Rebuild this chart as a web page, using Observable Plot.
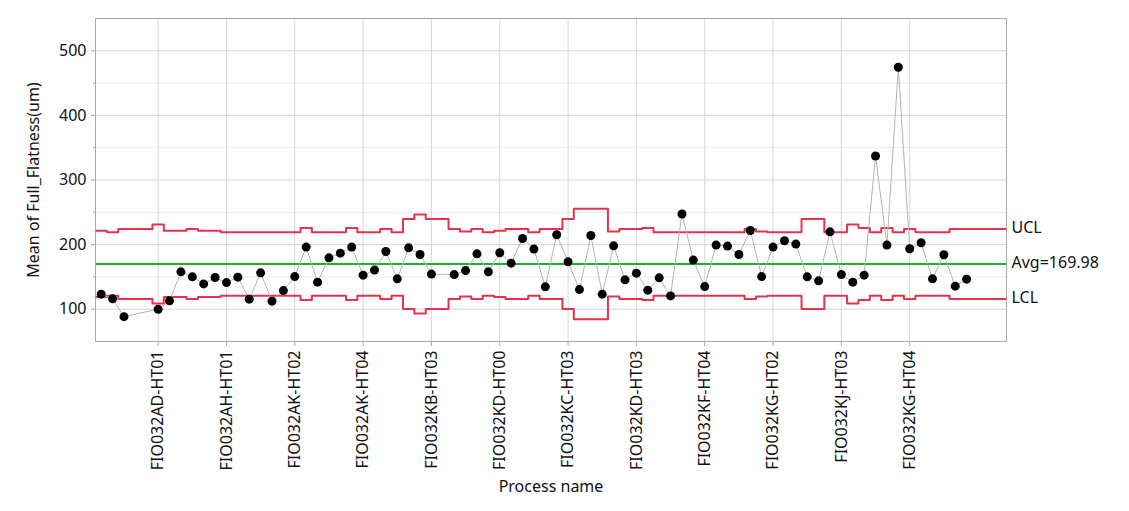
<!DOCTYPE html>
<html>
<head>
<meta charset="utf-8">
<script src="https://cdn.jsdelivr.net/npm/d3@7"></script>
<script src="https://cdn.jsdelivr.net/npm/@observablehq/plot@0.6"></script>
<style>
  body { margin: 0; background: #fff; }
</style>
</head>
<body>
<div id="chart"></div>
<script>
// ---- data ----
const labelIndex = [5, 11, 17, 23, 29, 35, 41, 47, 53, 59, 65, 71];
const labelNames = [
  "FIO032AD-HT01", "FIO032AH-HT01", "FIO032AK-HT02", "FIO032AK-HT04",
  "FIO032KB-HT03", "FIO032KD-HT00", "FIO032KC-HT03", "FIO032KD-HT03",
  "FIO032KF-HT04", "FIO032KG-HT02", "FIO032KJ-HT03", "FIO032KG-HT04"
];
const sampleIndex = [
  0, 1, 2, 5, 6, 7, 8, 9, 10, 11, 12, 13, 14, 15, 16, 17, 18, 19, 20, 21, 22, 23, 24, 25, 26, 27,
  28, 29, 31, 32, 33, 34, 35, 36, 37, 38, 39, 40, 41, 42, 43, 44, 45, 46, 47, 48, 49, 50, 51, 52,
  53, 54, 55, 56, 57, 58, 59, 60, 61, 62, 63, 64, 65, 66, 67, 68, 69, 70, 71, 72, 73, 74, 75, 76
];
const sampleMean = [
  123.3, 116.0, 88.5, 100.0, 112.9, 157.8, 150.1, 139.2, 149.0, 141.2, 149.6, 115.5, 156.3, 112.4, 128.8, 150.5, 196.1, 141.9, 179.5, 186.8, 196.1, 152.7, 160.5, 189.3, 147.0, 195.0,
  184.7, 154.3, 153.6, 159.8, 185.7, 157.8, 187.3, 171.3, 209.5, 193.0, 134.6, 215.2, 173.3, 130.4, 214.1, 123.3, 198.1, 145.4, 155.8, 129.5, 148.5, 120.6, 247.3, 176.0,
  135.0, 199.2, 197.7, 184.7, 221.9, 150.5, 196.1, 205.9, 200.8, 150.1, 143.9, 219.8, 153.6, 141.9, 152.7, 337.2, 199.2, 474.6, 193.5, 202.8, 147.0, 184.2, 135.7, 146.5
];
const ucl = [
  221.3, 219.2, 224.3, 224.3, 224.3, 231.0, 221.3, 221.3, 224.3, 221.3,
  221.3, 219.2, 219.2, 219.2, 219.2, 219.2, 219.2, 219.2, 225.8, 219.2,
  219.2, 219.2, 225.8, 219.2, 219.2, 224.3, 219.2, 239.8, 246.5, 239.8,
  239.8, 224.3, 220.3, 224.3, 219.2, 221.3, 224.3, 224.3, 219.2, 224.3,
  224.3, 239.8, 255.5, 255.5, 255.5, 220.3, 224.3, 224.3, 225.8, 219.2,
  219.2, 219.2, 219.2, 219.2, 219.2, 219.2, 219.2, 224.3, 220.3, 219.2,
  219.2, 219.2, 239.8, 239.8, 219.2, 219.2, 231.0, 225.8, 219.2, 225.8,
  219.2, 224.3, 219.2, 219.2, 219.2, 224.3, 224.3, 224.3, 224.3, 224.3
];
const lcl = [
  118.7, 120.8, 115.7, 115.7, 115.7, 109.0, 118.7, 118.7, 115.7, 118.7,
  118.7, 120.8, 120.8, 120.8, 120.8, 120.8, 120.8, 120.8, 114.2, 120.8,
  120.8, 120.8, 114.2, 120.8, 120.8, 115.7, 120.8, 100.2, 93.5, 100.2,
  100.2, 115.7, 119.7, 115.7, 120.8, 118.7, 115.7, 115.7, 120.8, 115.7,
  115.7, 100.2, 84.5, 84.5, 84.5, 119.7, 115.7, 115.7, 114.2, 120.8,
  120.8, 120.8, 120.8, 120.8, 120.8, 120.8, 120.8, 115.7, 119.7, 120.8,
  120.8, 120.8, 100.2, 100.2, 120.8, 120.8, 109.0, 114.2, 120.8, 114.2,
  120.8, 115.7, 120.8, 120.8, 120.8, 115.7, 115.7, 115.7, 115.7, 115.7
];
const avg = 169.98;
const yTicks = [100, 200, 300, 400, 500];
const yMinorTicks = [150, 250, 350, 450];
const yTitle = "Mean of Full_Flatness(um)";
const xTitle = "Process name";

// ---- build ----
const points = sampleIndex.map((i, k) => ({ i, v: sampleMean[k] }));
const steps = arr => arr.map((v, k) => ({ x: k - 0.5, v }))
  .concat([{ x: arr.length - 0.5, v: arr[arr.length - 1] }]);
const rightLabels = [
  { t: "UCL", v: ucl[ucl.length - 1] },
  { t: "Avg=" + avg.toFixed(2), v: avg },
  { t: "LCL", v: lcl[lcl.length - 1] }
];
const font = "'Noto Sans', 'Open Sans', sans-serif";
const n = ucl.length;

const chart = Plot.plot({
  width: 1129,
  height: 511,
  marginLeft: 95,
  marginRight: 123,
  marginTop: 18,
  marginBottom: 170,
  style: { fontFamily: font, fontSize: "16px", color: "#111", background: "#fff" },
  x: { domain: [-0.5, n - 0.5], axis: null },
  y: { domain: [50, 550], axis: null },
  marks: [
    Plot.gridY(yMinorTicks, { stroke: "#ececec", strokeOpacity: 1 }),
    Plot.gridY(yTicks, { stroke: "#d6d6d6", strokeOpacity: 1 }),
    Plot.gridX(labelIndex, { stroke: "#d6d6d6", strokeOpacity: 1 }),
    Plot.line(steps(ucl), { x: "x", y: "v", curve: "step-after", stroke: "#e8324b", strokeWidth: 2 }),
    Plot.line(steps(lcl), { x: "x", y: "v", curve: "step-after", stroke: "#e8324b", strokeWidth: 2 }),
    Plot.ruleY([avg], { stroke: "#21b02b", strokeWidth: 2 }),
    Plot.line(points, { x: "i", y: "v", stroke: "#b4b4b4", strokeWidth: 1 }),
    Plot.dot(points, { x: "i", y: "v", r: 4.5, fill: "#000", stroke: null }),
    Plot.frame({ stroke: "#a8a8a8" }),
    Plot.axisY(yTicks, { tickSize: 4, tickPadding: 5, stroke: "#a8a8a8", fill: "#111", fontSize: 16, label: null }),
    Plot.axisY(yMinorTicks, { tickSize: 2, stroke: "#a8a8a8", tickFormat: () => "", label: null }),
    Plot.axisX(labelIndex, {
      tickSize: 5, tickPadding: 4, tickRotate: -90, stroke: "#a8a8a8", fill: "#111", fontSize: 16,
      tickFormat: i => labelNames[labelIndex.indexOf(i)], label: null
    }),
    Plot.text(rightLabels, {
      y: "v", text: "t", frameAnchor: "right", textAnchor: "start", lineAnchor: "bottom",
      dx: 5, dy: 4, fontSize: 16, fill: "#111"
    }),
    Plot.text([yTitle], { frameAnchor: "left", textAnchor: "middle", rotate: -90, dx: -62, fontSize: 16, fill: "#111" }),
    Plot.text([xTitle], { frameAnchor: "bottom", dy: 150, fontSize: 16, fill: "#111" })
  ]
});
document.getElementById("chart").appendChild(chart);
</script>
</body>
</html>
